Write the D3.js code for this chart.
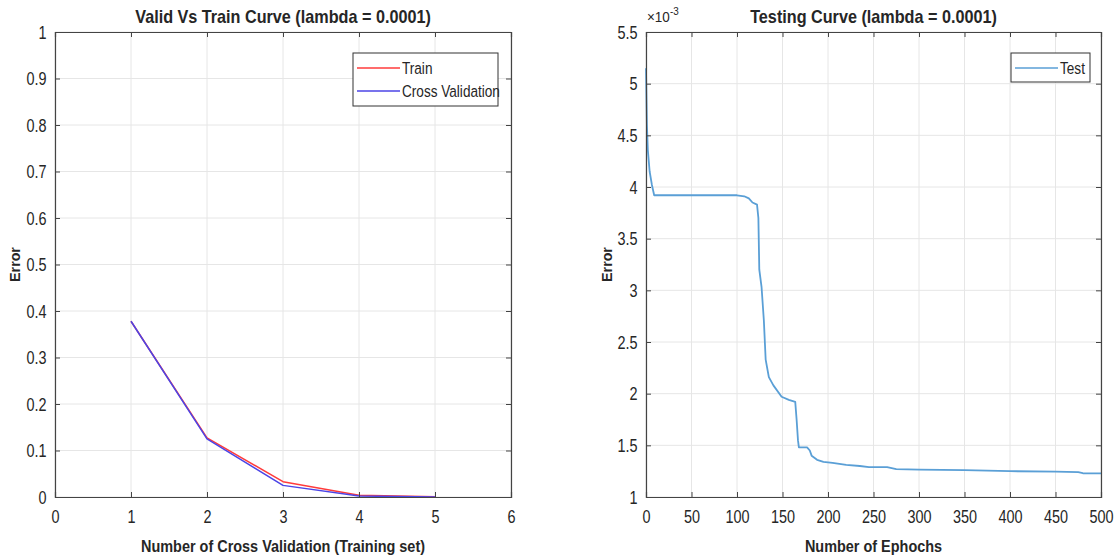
<!DOCTYPE html>
<html>
<head>
<meta charset="utf-8">
<script src="https://cdn.jsdelivr.net/npm/d3@7/dist/d3.min.js"></script>
<style>
  body { margin: 0; background: #fff; }
  svg text { font-family: "Liberation Sans", Arial, sans-serif; fill: #262626; }
</style>
</head>
<body>
<div id="chart"></div>
<script>
// ---- data ----
var cvFolds = [1, 2, 3, 4, 5];
var trainError = [0.378, 0.127, 0.033, 0.004, 0.0005];
var cvError = [0.378, 0.125, 0.025, 0.002, 0.0];
var leftXTicks = [0, 1, 2, 3, 4, 5, 6];
var leftYTicks = [0, 0.1, 0.2, 0.3, 0.4, 0.5, 0.6, 0.7, 0.8, 0.9, 1];

var testEpochs = [0, 1, 2, 4, 6.5, 9, 20, 50, 100, 108, 113, 117, 122, 123.5, 124.5, 127, 129.5,
    131.5, 135, 140, 149, 157, 164, 165.5, 167, 168, 177, 180, 182, 188, 195, 205, 220, 235, 245,
    265, 275, 300, 350, 400, 450, 475, 480, 500];
var testError = [5.15, 4.6, 4.36, 4.15, 4.02, 3.92, 3.92, 3.92, 3.92, 3.91, 3.89, 3.85, 3.83, 3.7,
    3.2, 3.03, 2.71, 2.33, 2.16, 2.08, 1.97, 1.94, 1.92, 1.75, 1.55, 1.48, 1.48, 1.45, 1.40, 1.36,
    1.34, 1.33, 1.31, 1.30, 1.29, 1.29, 1.27, 1.265, 1.26, 1.25, 1.245, 1.24, 1.23, 1.228];
var rightXTicks = [0, 50, 100, 150, 200, 250, 300, 350, 400, 450, 500];
var rightYTicks = [1, 1.5, 2, 2.5, 3, 3.5, 4, 4.5, 5, 5.5];

var W = 1119, H = 558;

var svg = d3.select("#chart").append("svg")
    .attr("width", W)
    .attr("height", H);

// text in the picture is narrower than the installed sans, so squeeze it a bit
function narrowText(parent, cx, cy, sx, rot) {
    var t = "translate(" + cx + "," + cy + ")" + (rot ? " rotate(" + rot + ")" : "") + " scale(" + sx + ",1)";
    return parent.append("text").attr("transform", t);
}

/*
 *  MATLAB-like axes: box, grid, inward ticks on all sides
 */
function drawPanel(p) {
    var g = svg.append("g");

    var x = d3.scaleLinear().domain(p.xDomain).range([p.left, p.right]);
    var y = d3.scaleLinear().domain(p.yDomain).range([p.bottom, p.top]);

    // grid
    g.selectAll(".vgrid").data(p.xTicks).enter().append("line")
        .attr("x1", function (d) { return x(d); })
        .attr("x2", function (d) { return x(d); })
        .attr("y1", p.top).attr("y2", p.bottom)
        .attr("stroke", "#e6e6e6").attr("stroke-width", 1);
    g.selectAll(".hgrid").data(p.yTicks).enter().append("line")
        .attr("y1", function (d) { return y(d); })
        .attr("y2", function (d) { return y(d); })
        .attr("x1", p.left).attr("x2", p.right)
        .attr("stroke", "#e6e6e6").attr("stroke-width", 1);

    // series
    var line = d3.line()
        .x(function (d) { return x(d[0]); })
        .y(function (d) { return y(d[1]); });

    p.series.forEach(function (s) {
        var pts = s.x.map(function (v, i) { return [v, s.y[i]]; });
        g.append("path")
            .datum(pts)
            .attr("d", line)
            .attr("fill", "none")
            .attr("stroke", s.color)
            .attr("stroke-width", s.width || 1.5)
            .attr("stroke-linejoin", "round");
    });

    // axes (bottom/left with labels, top/right bare)
    var fmt = function (d) { return d; };
    var bottomAxis = d3.axisBottom(x).tickValues(p.xTicks).tickSize(-5).tickPadding(13).tickFormat(fmt);
    var leftAxis = d3.axisLeft(y).tickValues(p.yTicks).tickSize(-5).tickPadding(11).tickFormat(fmt);
    var topAxis = d3.axisTop(x).tickValues(p.xTicks).tickSize(-5).tickFormat("");
    var rightAxis = d3.axisRight(y).tickValues(p.yTicks).tickSize(-5).tickFormat("");

    var axes = [
        [bottomAxis, "translate(0," + p.bottom + ")"],
        [leftAxis, "translate(" + p.left + ",0)"],
        [topAxis, "translate(0," + p.top + ")"],
        [rightAxis, "translate(" + p.right + ",0)"]
    ];
    axes.forEach(function (a) {
        var ag = g.append("g").attr("transform", a[1]).call(a[0]);
        ag.select(".domain").attr("stroke", "#444").attr("stroke-width", 1.2);
        ag.selectAll(".tick line").attr("stroke", "#444");
        ag.selectAll("text")
            .style("font-size", "19px")
            .attr("fill", "#262626")
            .attr("transform", "scale(0.76,1)");
    });

    // title + axis labels
    narrowText(g, (p.left + p.right) / 2, 23, 0.9)
        .attr("text-anchor", "middle")
        .style("font-size", "18px").style("font-weight", "bold")
        .text(p.title);
    narrowText(g, (p.left + p.right) / 2, 552, 0.85)
        .attr("text-anchor", "middle")
        .style("font-size", "17px").style("font-weight", "bold")
        .text(p.xLabel);
    narrowText(g, p.yLabelX, (p.top + p.bottom) / 2, 0.95, -90)
        .attr("text-anchor", "middle")
        .style("font-size", "15px").style("font-weight", "bold")
        .text(p.yLabel);

    // legend
    var lg = p.legend;
    g.append("rect")
        .attr("x", lg.x).attr("y", lg.y)
        .attr("width", lg.w).attr("height", lg.h)
        .attr("fill", "#fff").attr("stroke", "#333").attr("stroke-width", 1);
    p.series.forEach(function (s, i) {
        var ly = lg.y + 15 + i * 23;
        g.append("line")
            .attr("x1", lg.x + 4).attr("x2", lg.x + 47)
            .attr("y1", ly).attr("y2", ly)
            .attr("stroke", s.color).attr("stroke-width", 1.5);
        narrowText(g, lg.x + 49, ly + 6, 0.8)
            .style("font-size", "17px")
            .text(s.name);
    });

    return { x: x, y: y, g: g };
}

drawPanel({
    left: 55, right: 511, top: 32, bottom: 497,
    xDomain: [0, 6], yDomain: [0, 1],
    xTicks: leftXTicks, yTicks: leftYTicks,
    title: "Valid Vs Train Curve (lambda = 0.0001)",
    xLabel: "Number of Cross Validation (Training set)",
    yLabel: "Error", yLabelX: 20,
    legend: { x: 353, y: 53, w: 145, h: 53 },
    series: [
        { name: "Train", x: cvFolds, y: trainError, color: "#ff3b3b" },
        { name: "Cross Validation", x: cvFolds, y: cvError, color: "#4b44e6" }
    ]
});

var right = drawPanel({
    left: 646, right: 1101, top: 32, bottom: 497,
    xDomain: [0, 500], yDomain: [1, 5.5],
    xTicks: rightXTicks, yTicks: rightYTicks,
    title: "Testing Curve (lambda = 0.0001)",
    xLabel: "Number of Ephochs",
    yLabel: "Error", yLabelX: 612,
    legend: { x: 1011, y: 53, w: 79, h: 29 },
    series: [
        { name: "Test", x: testEpochs, y: testError, color: "#5a9fd6", width: 1.8 }
    ]
});

// exponent label above the y axis
var ex = narrowText(right.g, 647, 22, 0.9)
    .style("font-size", "15px")
    .attr("fill", "#555");
ex.append("tspan").text("\u00d710");
ex.append("tspan").attr("dy", -7).style("font-size", "11px").text("-3");
</script>
</body>
</html>
